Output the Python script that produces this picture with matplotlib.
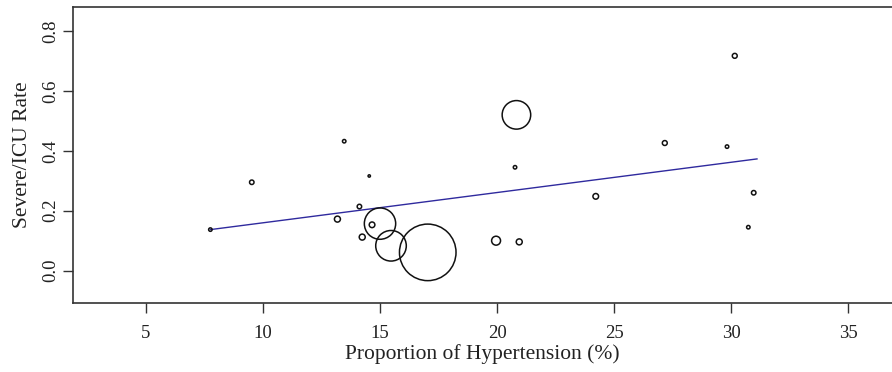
import numpy as np
import matplotlib as mpl
mpl.use('agg')
import matplotlib.pyplot as plt

# Study-level data
hypertension = [7.75, 9.52, 13.47, 14.54, 14.12, 13.18, 14.66, 14.24, 15.0, 15.47,
                17.04, 20.83, 20.77, 19.96, 20.95, 24.22, 30.16, 27.17, 29.83, 30.97, 30.74]
severe_rate = [0.137, 0.295, 0.432, 0.316, 0.214, 0.172, 0.153, 0.112, 0.157, 0.083,
               0.061, 0.520, 0.345, 0.100, 0.096, 0.248, 0.717, 0.426, 0.414, 0.260, 0.145]
# study weights (bubble area)
weights = [3, 5, 3, 1.4, 5, 9, 8, 9, 246, 234,
           801, 204, 3, 20, 9, 8, 6, 6, 3, 5, 3]

# meta-regression line
reg_x = [7.75, 31.11]
reg_intercept = 0.0587
reg_slope = 0.0101

plt.rcParams['font.family'] = ['Liberation Serif', 'DejaVu Serif']
plt.rcParams['font.size'] = 13.5

fig = plt.figure(figsize=(8.92, 3.72), dpi=100)
ax = fig.add_axes([73 / 892, 69 / 372, 819 / 892, 296 / 372])

sizes = [2.07 * w for w in weights]
ax.scatter(hypertension, severe_rate, s=sizes, facecolors='none',
           edgecolors='#111111', linewidths=1.1, zorder=3)

xs = np.array(reg_x)
ax.plot(xs, reg_intercept + reg_slope * xs, color='#2f2a9e', lw=1.0, zorder=2)

ax.set_xlim(1.88, 36.88)
ax.set_ylim(-0.108, 0.88)
ax.set_xticks([5, 10, 15, 20, 25, 30, 35])
ax.set_yticks([0.0, 0.2, 0.4, 0.6, 0.8])
ax.set_yticklabels(['0.0', '0.2', '0.4', '0.6', '0.8'], rotation=90, va='center')

ax.spines['right'].set_visible(False)
for s in ['left', 'top', 'bottom']:
    ax.spines[s].set_color('#333333')
    ax.spines[s].set_linewidth(1.2)
ax.tick_params(axis='both', length=7.2, width=1.0, color='#333333', colors='#222222')
ax.tick_params(axis='x', pad=9)
ax.tick_params(axis='y', pad=3)

ax.set_xlabel('Proportion of Hypertension (%)', color='#222222', fontsize=15.5, labelpad=1)
ax.set_ylabel('Severe/ICU Rate', color='#222222', fontsize=15.5, labelpad=7)

fig.savefig('out.png', dpi=100)
